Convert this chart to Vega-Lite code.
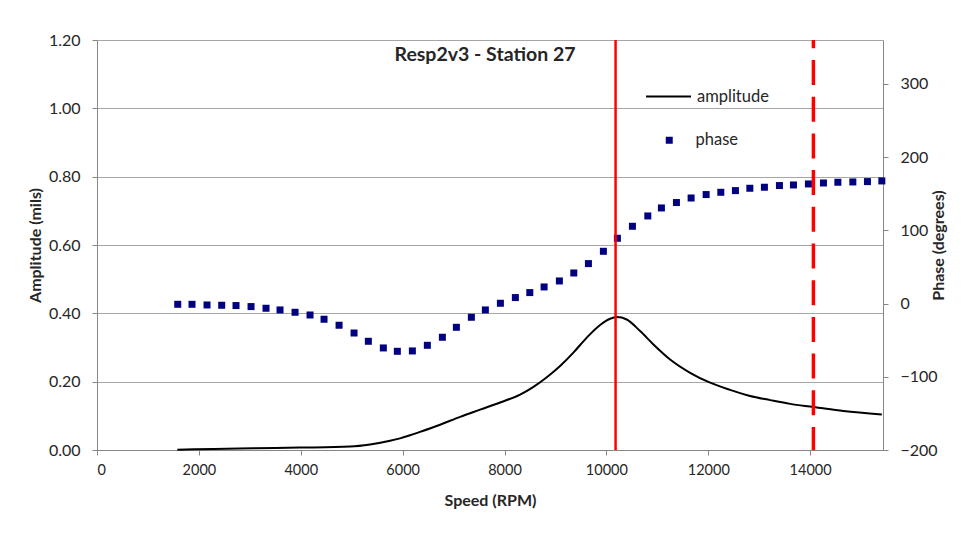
{
  "$schema": "https://vega.github.io/schema/vega-lite/v6.json",
  "width": 786,
  "height": 410,
  "autosize": {"type": "none"},
  "padding": {"left": 97, "top": 40, "right": 84, "bottom": 102},
  "background": "white",
  "config": {
    "font": "Lato",
    "view": {"stroke": null},
    "axis": {
      "labelFont": "Lato",
      "labelFontSize": 14,
      "labelColor": "#262626",
      "titleFont": "Lato",
      "titleFontSize": 16,
      "titleFontWeight": "bold",
      "titleColor": "#262626",
      "domainColor": "#868686",
      "tickColor": "#868686",
      "tickSize": 5,
      "gridColor": "#a6a6a6",
      "gridWidth": 1
    },
    "legend": {"labelFont": "Lato", "labelFontSize": 16.5, "labelColor": "#262626", "padding": 0}
  },
  "title": {
    "text": "Resp2v3 - Station 27",
    "font": "Lato",
    "fontSize": 19.5,
    "fontWeight": "bold",
    "color": "#262626",
    "anchor": "middle",
    "baseline": "bottom",
    "offset": -52,
    "dx": -5
  },
  "datasets": {
    "amplitude": [
      {"rpm": 1577, "amplitude": 0.001},
      {"rpm": 2300, "amplitude": 0.003},
      {"rpm": 3069, "amplitude": 0.005},
      {"rpm": 3986, "amplitude": 0.007},
      {"rpm": 4968, "amplitude": 0.010},
      {"rpm": 5360, "amplitude": 0.016},
      {"rpm": 5753, "amplitude": 0.027},
      {"rpm": 5949, "amplitude": 0.034},
      {"rpm": 6146, "amplitude": 0.043},
      {"rpm": 6342, "amplitude": 0.053},
      {"rpm": 6735, "amplitude": 0.074},
      {"rpm": 7128, "amplitude": 0.097},
      {"rpm": 7520, "amplitude": 0.118},
      {"rpm": 7913, "amplitude": 0.139},
      {"rpm": 8306, "amplitude": 0.162},
      {"rpm": 8561, "amplitude": 0.184},
      {"rpm": 8830, "amplitude": 0.213},
      {"rpm": 9091, "amplitude": 0.246},
      {"rpm": 9352, "amplitude": 0.285},
      {"rpm": 9615, "amplitude": 0.329},
      {"rpm": 9876, "amplitude": 0.366},
      {"rpm": 10073, "amplitude": 0.384},
      {"rpm": 10204, "amplitude": 0.389},
      {"rpm": 10400, "amplitude": 0.382},
      {"rpm": 10662, "amplitude": 0.348},
      {"rpm": 10923, "amplitude": 0.309},
      {"rpm": 11251, "amplitude": 0.265},
      {"rpm": 11644, "amplitude": 0.226},
      {"rpm": 12036, "amplitude": 0.197},
      {"rpm": 12429, "amplitude": 0.176},
      {"rpm": 12822, "amplitude": 0.158},
      {"rpm": 13215, "amplitude": 0.146},
      {"rpm": 13607, "amplitude": 0.135},
      {"rpm": 14065, "amplitude": 0.126},
      {"rpm": 14653, "amplitude": 0.114},
      {"rpm": 15407, "amplitude": 0.104}
    ],
    "phase": [
      {"rpm": 1585, "phase": -1.0},
      {"rpm": 1865, "phase": -1.0},
      {"rpm": 2160, "phase": -1.9},
      {"rpm": 2448, "phase": -2.3},
      {"rpm": 2729, "phase": -2.7},
      {"rpm": 3024, "phase": -4.1},
      {"rpm": 3318, "phase": -6.4},
      {"rpm": 3593, "phase": -8.7},
      {"rpm": 3888, "phase": -11.9},
      {"rpm": 4182, "phase": -15.6},
      {"rpm": 4457, "phase": -21.4},
      {"rpm": 4752, "phase": -29.6},
      {"rpm": 5046, "phase": -40.2},
      {"rpm": 5327, "phase": -51.5},
      {"rpm": 5621, "phase": -60.6},
      {"rpm": 5896, "phase": -65.2},
      {"rpm": 6191, "phase": -64.7},
      {"rpm": 6485, "phase": -57.0},
      {"rpm": 6780, "phase": -46.0},
      {"rpm": 7055, "phase": -32.4},
      {"rpm": 7349, "phase": -18.7},
      {"rpm": 7624, "phase": -8.7},
      {"rpm": 7919, "phase": 0.4},
      {"rpm": 8213, "phase": 8.2},
      {"rpm": 8496, "phase": 15.0},
      {"rpm": 8777, "phase": 22.7},
      {"rpm": 9077, "phase": 30.9},
      {"rpm": 9360, "phase": 41.8},
      {"rpm": 9647, "phase": 54.6},
      {"rpm": 9941, "phase": 71.4},
      {"rpm": 10216, "phase": 89.2},
      {"rpm": 10511, "phase": 105.6},
      {"rpm": 10813, "phase": 119.7},
      {"rpm": 11080, "phase": 130.6},
      {"rpm": 11375, "phase": 138.0},
      {"rpm": 11663, "phase": 144.2},
      {"rpm": 11958, "phase": 148.9},
      {"rpm": 12246, "phase": 152.0},
      {"rpm": 12533, "phase": 154.3},
      {"rpm": 12816, "phase": 157.5},
      {"rpm": 13102, "phase": 158.9},
      {"rpm": 13397, "phase": 161.2},
      {"rpm": 13672, "phase": 162.0},
      {"rpm": 13966, "phase": 163.4},
      {"rpm": 14261, "phase": 164.7},
      {"rpm": 14544, "phase": 165.7},
      {"rpm": 14838, "phase": 166.1},
      {"rpm": 15125, "phase": 166.6},
      {"rpm": 15407, "phase": 167.5}
    ],
    "resonance": [{"rpm": 10180}],
    "limit": [{"rpm": 14064}]
  },
  "layer": [
    {
      "data": {"name": "amplitude"},
      "mark": {"type": "line", "interpolate": "monotone", "strokeWidth": 2},
      "encoding": {
        "x": {
          "field": "rpm",
          "type": "quantitative",
          "scale": {"domain": [0, 15430], "nice": false, "zero": false},
          "axis": {
            "title": "Speed (RPM)",
            "values": [0, 2000, 4000, 6000, 8000, 10000, 12000, 14000],
            "format": "d",
            "grid": false,
            "labelFontSize": 14.5,
            "labelPadding": 8,
            "titlePadding": 16
          }
        },
        "y": {
          "field": "amplitude",
          "type": "quantitative",
          "scale": {"domain": [0, 1.2], "nice": false},
          "axis": {
            "title": "Amplitude (mils)",
            "values": [0, 0.2, 0.4, 0.6, 0.8, 1.0, 1.2],
            "format": ".2f",
            "grid": true,
            "labelFontSize": 16,
            "labelPadding": 12,
            "titlePadding": 5
          }
        },
        "color": {
          "datum": "amplitude",
          "scale": {"range": ["#000000"]},
          "legend": {
            "title": null,
            "orient": "none",
            "legendX": 548,
            "legendY": 33,
            "symbolType": "stroke",
            "symbolSize": 2025,
            "symbolStrokeWidth": 2,
            "labelOffset": 5
          }
        }
      }
    },
    {
      "data": {"name": "phase"},
      "mark": {"type": "point", "shape": "square", "filled": true, "size": 49, "color": "#000080", "opacity": 1},
      "encoding": {
        "x": {"field": "rpm", "type": "quantitative"},
        "y": {
          "field": "phase",
          "type": "quantitative",
          "scale": {"domain": [-200, 360], "nice": false},
          "axis": {
            "orient": "right",
            "title": "Phase (degrees)",
            "titleAngle": 270,
            "values": [-200, -100, 0, 100, 200, 300],
            "grid": false,
            "labelFontSize": 16,
            "labelPadding": 12,
            "titlePadding": 9
          }
        },
        "shape": {
          "datum": "phase",
          "scale": {"range": ["square"]},
          "legend": {
            "title": null,
            "orient": "none",
            "legendX": 564,
            "legendY": 92,
            "symbolSize": 49,
            "symbolFillColor": "#000080",
            "symbolStrokeColor": "#000080",
            "symbolStrokeWidth": 0,
            "labelOffset": 18
          }
        }
      }
    },
    {
      "data": {"name": "resonance"},
      "mark": {"type": "rule", "color": "#ff0000", "strokeWidth": 2.5},
      "encoding": {"x": {"field": "rpm", "type": "quantitative"}}
    },
    {
      "data": {"name": "limit"},
      "mark": {"type": "rule", "color": "#ff0000", "strokeWidth": 3.5, "strokeDash": [25, 11.7], "strokeDashOffset": 16.7},
      "encoding": {"x": {"field": "rpm", "type": "quantitative"}}
    }
  ],
  "resolve": {"scale": {"y": "independent"}}
}
